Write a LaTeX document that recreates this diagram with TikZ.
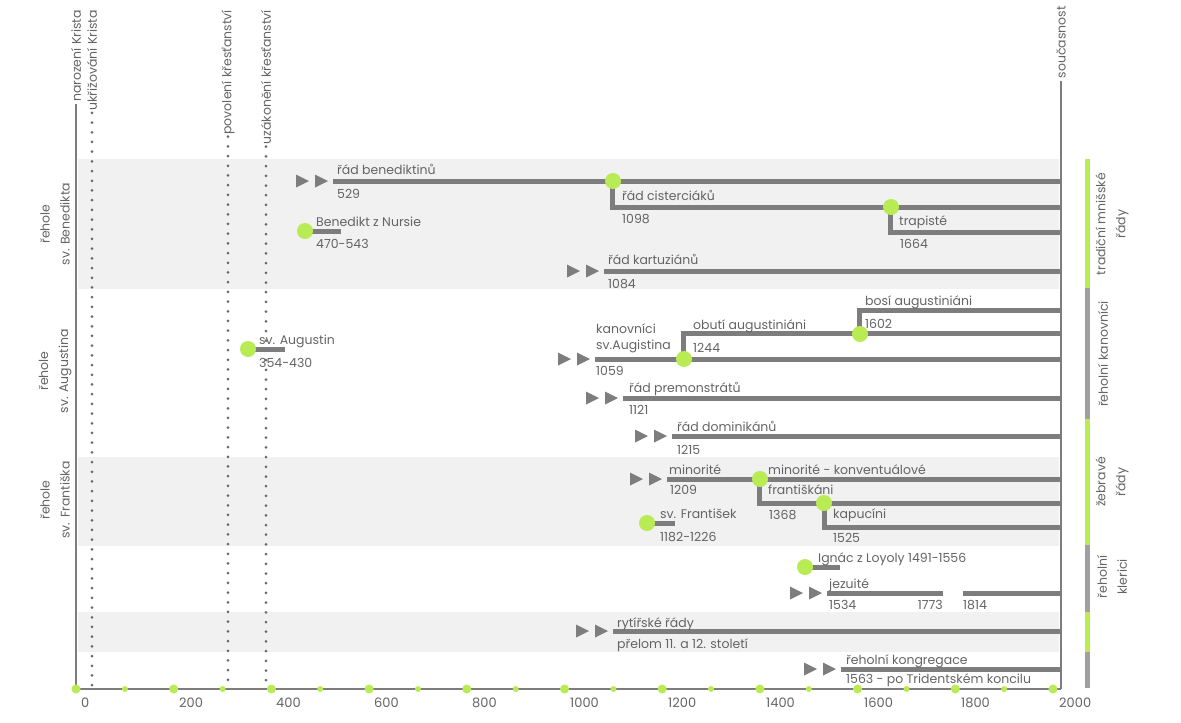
\documentclass[tikz,border=0pt]{standalone}
\usepackage{fontspec}
\setmainfont{Poppins}
\usepackage{tikz}
\definecolor{linegray}{RGB}{125,125,125}
\definecolor{dotgray}{RGB}{105,105,105}
\definecolor{txtgray}{RGB}{100,100,100}
\definecolor{bandgray}{RGB}{240,241,240}
\definecolor{lime}{RGB}{184,235,84}
\definecolor{bargray}{RGB}{160,160,160}
\tikzstyle{order line}=[draw=linegray, line width=5pt, line join=miter]
\tikzstyle{start mark}=[fill=linegray]
\tikzstyle{event dot}=[circle, fill=lime, minimum size=16pt, inner sep=0pt]
\tikzstyle{order text}=[anchor=base west, inner sep=0pt, text=txtgray, font=\fontsize{12.5}{15}\selectfont]
\tikzstyle{side text}=[rotate=90, align=center, inner sep=0pt, text=txtgray, font=\fontsize{12.5}{20}\selectfont]
\tikzstyle{epoch text}=[rotate=90, anchor=east, inner sep=2pt, text=txtgray, font=\fontsize{12.5}{14}\selectfont]
\tikzstyle{time line}=[draw=linegray, line width=2pt]
\tikzstyle{dot line}=[draw=dotgray, line width=3pt, line cap=round, dash pattern=on 0pt off 9.7pt]
\tikzstyle{band}=[fill=bandgray]
\tikzstyle{big tick}=[circle, fill=lime, minimum size=9pt, inner sep=0pt]
\tikzstyle{small tick}=[circle, fill=lime, minimum size=6pt, inner sep=0pt]
\tikzstyle{axis text}=[anchor=base west, inner sep=0pt, text=txtgray, font=\fontsize{13}{15}\selectfont]

\begin{document}
\begin{tikzpicture}[x=1pt, y=-1pt]
		\useasboundingbox (0,0) rectangle (1181,723);

		% pasy
		\fill [style=band] (78,159) rectangle (1059,289);
		\fill [style=band] (78,457) rectangle (1059,546);
		\fill [style=band] (78,612) rectangle (1059,652);

		% udalosti nahore
		\node [style=epoch text] (nar) at (76,8) {narození Krista};
		\node [style=epoch text] (ukr) at (92,8) {ukřižování Krista};
		\node [style=epoch text] (pov) at (228,8) {povolení křesťanství};
		\node [style=epoch text] (uza) at (266,8) {uzákonění křesťanství};
		\node [style=epoch text] (now) at (1061,4) {současnost};
		\coordinate (a0) at (76,689);
		\coordinate (a1) at (1061,689);

		\draw [style=dot line] (ukr.west) to (92,689);
		\draw [style=dot line] (pov.west) to (228,689);
		\draw [style=dot line] (uza.west) to (266,689);
		\draw [style=time line] (nar.west) to (a0);
		\draw [style=time line] (now.west) to (a1);
		\draw [style=time line] (a0) to (a1);

		% rehole
		\node [style=side text] (sb) at (55,224) {řehole\\sv. Benedikta};
		\node [style=side text] (sa) at (55,371) {řehole\\sv. Augustina};
		\node [style=side text] (sf) at (55,500) {řehole\\sv. Františka};

		% druhy radu
		\fill [fill=lime] (1085,159) rectangle (1090,288);
		\fill [fill=bargray] (1085,288) rectangle (1090,419);
		\fill [fill=lime] (1085,419) rectangle (1090,545);
		\fill [fill=bargray] (1085,545) rectangle (1090,612);
		\fill [fill=lime] (1085,612) rectangle (1090,652);
		\fill [fill=bargray] (1085,652) rectangle (1090,688);
		\node [style=side text] (r1) at (1112,224) {tradiční mnišské\\řády};
		\node [style=side text] (r2) at (1103,354) {řeholní kanovníci};
		\node [style=side text] (r3) at (1112,482) {žebravé\\řády};
		\node [style=side text] (r4) at (1112,577) {řeholní\\klerici};

		% benediktini
		\fill [style=start mark] (309,181) -- ++(-13,-6.5) -- ++(0,13) -- cycle (328,181) -- ++(-13,-6.5) -- ++(0,13) -- cycle;
		\draw [style=order line] (333,181) to (1061,181);
		\draw [style=order line] (612,181) -- (612,207) -- (1061,207);
		\draw [style=order line] (890,207) -- (890,232) -- (1061,232);
		\node [style=event dot] (cis) at (613,181) {};
		\node [style=event dot] (tra) at (891,207) {};
		\node [style=order text] (ben t) at (337,174) {řád benediktinů};
		\node [style=order text] (ben y) at (337,198) {529};
		\node [style=order text] (cis t) at (622,200) {řád cisterciáků};
		\node [style=order text] (cis y) at (622,223) {1098};
		\node [style=order text] (tra t) at (899,225) {trapisté};
		\node [style=order text] (tra y) at (900,248) {1664};

		\draw [style=order line] (305,231) to (341,231);
		\node [style=event dot] (bnr) at (305,231) {};
		\node [style=order text] (bnr t) at (316,226) {Benedikt z Nursie};
		\node [style=order text] (bnr y) at (316,248) {470-543};

		\fill [style=start mark] (580,271) -- ++(-13,-6.5) -- ++(0,13) -- cycle (599,271) -- ++(-13,-6.5) -- ++(0,13) -- cycle;
		\draw [style=order line] (604,271) to (1061,271);
		\node [style=order text] (kar t) at (608,264) {řád kartuziánů};
		\node [style=order text] (kar y) at (608,288) {1084};

		% augustiniani
		\draw [style=order line] (248,349) to (285,349);
		\node [style=event dot] (aug) at (248,349) {};
		\node [style=order text] (aug t) at (259,344) {sv. Augustin};
		\node [style=order text] (aug y) at (259,367) {354-430};

		\fill [style=start mark] (571,359) -- ++(-13,-6.5) -- ++(0,13) -- cycle (590,359) -- ++(-13,-6.5) -- ++(0,13) -- cycle;
		\draw [style=order line] (595,359) to (1061,359);
		\draw [style=order line] (683,359) -- (683,333) -- (1061,333);
		\draw [style=order line] (859,333) -- (859,310) -- (1061,310);
		\node [style=event dot] (obu) at (684,359) {};
		\node [style=event dot] (bos) at (860,334) {};
		\node [style=order text] (kan t) at (596,333) {kanovníci};
		\node [style=order text] (kan s) at (596,349) {sv.Augistina};
		\node [style=order text] (kan y) at (596,375) {1059};
		\node [style=order text] (obu t) at (693,329) {obutí augustiniáni};
		\node [style=order text] (obu y) at (693,352) {1244};
		\node [style=order text] (bos t) at (865,305) {bosí augustiniáni};
		\node [style=order text] (bos y) at (865,328) {1602};

		\fill [style=start mark] (599,398) -- ++(-13,-6.5) -- ++(0,13) -- cycle (618,398) -- ++(-13,-6.5) -- ++(0,13) -- cycle;
		\draw [style=order line] (623,398) to (1061,398);
		\node [style=order text] (pre t) at (629,392) {řád premonstrátů};
		\node [style=order text] (pre y) at (629,414) {1121};

		\fill [style=start mark] (648,436) -- ++(-13,-6.5) -- ++(0,13) -- cycle (667,436) -- ++(-13,-6.5) -- ++(0,13) -- cycle;
		\draw [style=order line] (672,436) to (1061,436);
		\node [style=order text] (dom t) at (677,431) {řád dominikánů};
		\node [style=order text] (dom y) at (677,454) {1215};

		% frantiskani
		\fill [style=start mark] (643,479) -- ++(-13,-6.5) -- ++(0,13) -- cycle (662,479) -- ++(-13,-6.5) -- ++(0,13) -- cycle;
		\draw [style=order line] (667,479) to (1061,479);
		\draw [style=order line] (759,479) -- (759,503) -- (1061,503);
		\draw [style=order line] (824,503) -- (824,527) -- (1061,527);
		\node [style=event dot] (kon) at (760,479) {};
		\node [style=event dot] (kap) at (824,503) {};
		\node [style=order text] (min t) at (669,474) {minorité};
		\node [style=order text] (min y) at (670,494) {1209};
		\node [style=order text] (kon t) at (768,474) {minorité - konventuálové};
		\node [style=order text] (fra t) at (768,494) {františkáni};
		\node [style=order text] (fra y) at (769,519) {1368};
		\node [style=order text] (kap t) at (833,518) {kapucíni};
		\node [style=order text] (kap y) at (833,542) {1525};

		\draw [style=order line] (647,523) to (675,523);
		\node [style=event dot] (frs) at (647,523) {};
		\node [style=order text] (frs t) at (660,518) {sv. František};
		\node [style=order text] (frs y) at (660,541) {1182-1226};

		% jezuite
		\draw [style=order line] (805,567) to (840,567);
		\node [style=event dot] (ign) at (805,567) {};
		\node [style=order text] (ign t) at (818,562) {Ignác z Loyoly 1491-1556};

		\fill [style=start mark] (803,593) -- ++(-13,-6.5) -- ++(0,13) -- cycle (822,593) -- ++(-13,-6.5) -- ++(0,13) -- cycle;
		\draw [style=order line] (827,593) to (943,593);
		\draw [style=order line] (963,593) to (1061,593);
		\node [style=order text] (jez t) at (829,588) {jezuité};
		\node [style=order text] (jez y) at (829,609) {1534};
		\node [style=order text, anchor=base east] (jez z) at (943,609) {1773};
		\node [style=order text] (jez o) at (963,609) {1814};

		% rytiri, kongregace
		\fill [style=start mark] (589,631) -- ++(-13,-6.5) -- ++(0,13) -- cycle (608,631) -- ++(-13,-6.5) -- ++(0,13) -- cycle;
		\draw [style=order line] (613,631) to (1061,631);
		\node [style=order text] (ryt t) at (617,627) {rytířské řády};
		\node [style=order text] (ryt y) at (617,648) {přelom 11. a 12. století};

		\fill [style=start mark] (817,669) -- ++(-13,-6.5) -- ++(0,13) -- cycle (836,669) -- ++(-13,-6.5) -- ++(0,13) -- cycle;
		\draw [style=order line] (841,669) to (1061,669);
		\node [style=order text] (kng t) at (846,664) {řeholní kongregace};
		\node [style=order text] (kng y) at (846,683) {1563 - po Tridentském koncilu};

		% osa
		\node [style=big tick] (t0) at (76,689) {};
		\node [style=small tick] (s0) at (124.9,689) {};
		\node [style=big tick] (t1) at (173.7,689) {};
		\node [style=small tick] (s1) at (222.6,689) {};
		\node [style=big tick] (t2) at (271.4,689) {};
		\node [style=small tick] (s2) at (320.2,689) {};
		\node [style=big tick] (t3) at (369.1,689) {};
		\node [style=small tick] (s3) at (418,689) {};
		\node [style=big tick] (t4) at (466.8,689) {};
		\node [style=small tick] (s4) at (515.7,689) {};
		\node [style=big tick] (t5) at (564.5,689) {};
		\node [style=small tick] (s5) at (613.4,689) {};
		\node [style=big tick] (t6) at (662.2,689) {};
		\node [style=small tick] (s6) at (711,689) {};
		\node [style=big tick] (t7) at (759.9,689) {};
		\node [style=small tick] (s7) at (808.8,689) {};
		\node [style=big tick] (t8) at (857.6,689) {};
		\node [style=small tick] (s8) at (906.5,689) {};
		\node [style=big tick] (t9) at (955.3,689) {};
		\node [style=small tick] (s9) at (1004.2,689) {};
		\node [style=big tick] (t10) at (1053,689) {};

		\node [style=axis text] (l0) at (81,707) {0};
		\node [style=axis text] (l1) at (179,707) {200};
		\node [style=axis text] (l2) at (276,707) {400};
		\node [style=axis text] (l3) at (374,707) {600};
		\node [style=axis text] (l4) at (472,707) {800};
		\node [style=axis text] (l5) at (570,707) {1000};
		\node [style=axis text] (l6) at (668,707) {1200};
		\node [style=axis text] (l7) at (766,707) {1400};
		\node [style=axis text] (l8) at (864,707) {1600};
		\node [style=axis text] (l9) at (961,707) {1800};
		\node [style=axis text] (l10) at (1059,707) {2000};

\end{tikzpicture}
\end{document}
